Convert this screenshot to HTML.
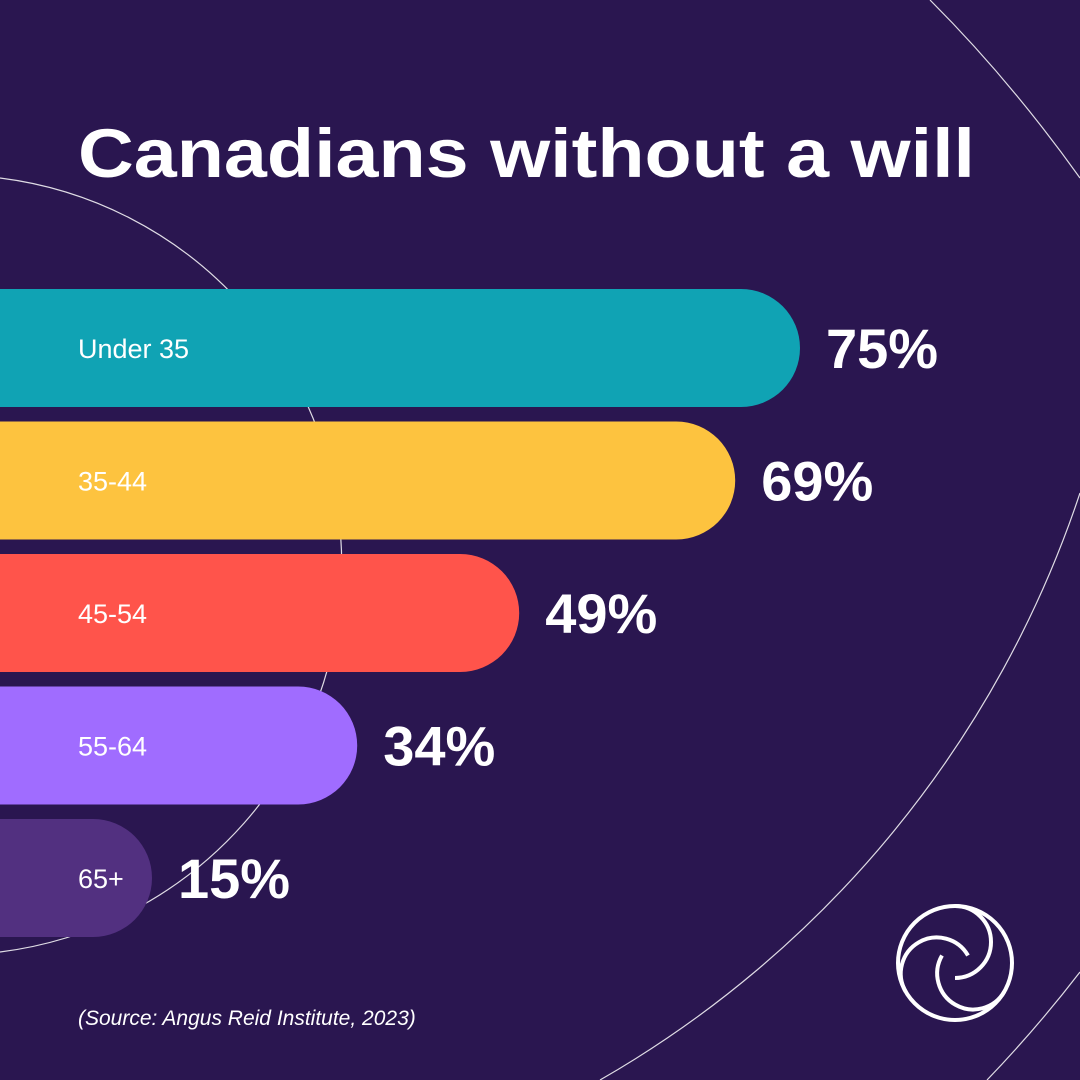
<!DOCTYPE html>
<html><head><meta charset="utf-8">
<style>
html,body{margin:0;padding:0;background:#2a1650;width:1080px;height:1080px;overflow:hidden;}
svg{display:block;}
text{font-family:"Liberation Sans",sans-serif;}
</style></head>
<body>
<svg id="chart" width="1080" height="1080" viewBox="0 0 1080 1080">
  <rect width="1080" height="1080" fill="#2a1650"/>
  <g fill="none" stroke="#ffffff" stroke-width="1.2" opacity="0.85">
    <path d="M0,178 A390,390 0 0 1 0,952"/>
    <path d="M930,0 Q1010,80 1080,178"/>
    <path d="M1080,493 A1063,1063 0 0 1 600,1080"/>
    <path d="M1080,972 A1300,1300 0 0 1 987,1080"/>
  </g>
  <text x="78" y="177" fill="#ffffff" font-size="69" font-weight="bold" textLength="897" lengthAdjust="spacingAndGlyphs">Canadians without a will</text>
  <g id="bars"></g>
  <text x="78" y="1025" fill="#ffffff" font-size="21" font-style="italic">(Source: Angus Reid Institute, 2023)</text>
  <g fill="none" stroke="#ffffff" stroke-width="4">
    <circle cx="955" cy="963" r="57"/>
    <path d="M955,906 A36,36 0 0 1 955,978"/>
    <path d="M1004.4,991.5 A36,36 0 0 1 942,955.5"/>
    <path d="M905.6,991.5 A36,36 0 0 1 968,955.5"/>
  </g>
</svg>
<script>
const categories = ["Under 35","35-44","45-54","55-64","65+"];
const values = [75,69,49,34,15];
const valueLabels = ["75%","69%","49%","34%","15%"];
const colors = ["#10a3b4","#fdc33f","#ff544b","#a06cff","#523080"];
const NS="http://www.w3.org/2000/svg";
function xScale(v){ return 10.8*v - 10; }
function yScale(i){ return 289 + i*132.5; }
const barH = 118;
const g = document.getElementById('bars');
for(let i=0;i<categories.length;i++){
  const y=yScale(i), w=xScale(values[i]), r=barH/2;
  const p=document.createElementNS(NS,'path');
  p.setAttribute('d',`M0,${y} H${w-r} A${r},${r} 0 0 1 ${w-r},${y+barH} H0 Z`);
  p.setAttribute('fill',colors[i]);
  
  
  g.appendChild(p);
  const t=document.createElementNS(NS,'text');
  t.setAttribute('x',78); t.setAttribute('y',y+barH/2+10);
  t.setAttribute('fill','#ffffff'); t.setAttribute('font-size','27');
  t.textContent=categories[i];
  
  
  g.appendChild(t);
  const v=document.createElementNS(NS,'text');
  v.setAttribute('x',w+26); v.setAttribute('y',y+barH/2+20);
  v.setAttribute('fill','#ffffff'); v.setAttribute('font-size','56'); v.setAttribute('font-weight','bold');
  v.textContent=valueLabels[i];
  
  
  g.appendChild(v);
}
</script>
</body></html>
